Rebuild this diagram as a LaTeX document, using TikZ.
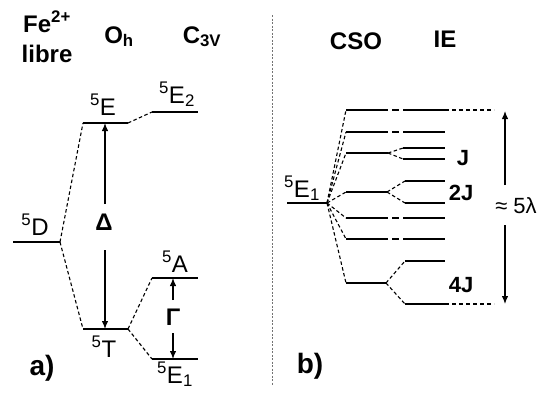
\documentclass[tikz,border=0pt]{standalone}
\usepackage{fontspec}
\setmainfont{Liberation Sans}
\usetikzlibrary{arrows.meta}
\begin{document}
\begin{tikzpicture}[x=1pt,y=-1pt,
  lvl/.style={line width=1.2pt},
  conn/.style={line width=1.1pt, dash pattern=on 3.5pt off 2.5pt},
  ddl/.style={line width=1.2pt, dash pattern=on 42pt off 4pt on 7pt off 4pt on 80pt},
  ext/.style={line width=1.1pt, dash pattern=on 4pt off 3pt},
  arr/.style={line width=1.2pt, -{Latex[length=8pt,width=6.5pt]}},
  lbl/.style={inner sep=0pt, anchor=base, font=\fontsize{24}{28}\selectfont},
  blbl/.style={inner sep=0pt, anchor=base, font=\fontsize{24}{28}\selectfont\bfseries},
  jlbl/.style={inner sep=0pt, anchor=base, font=\fontsize{22}{26}\selectfont\bfseries},
  plbl/.style={inner sep=0pt, anchor=base, font=\fontsize{28}{32}\selectfont\bfseries},
]
\useasboundingbox (0,0) rectangle (544,394);

% separator
\coordinate (s1) at (272,15);
\coordinate (s2) at (272,385);
\draw[black!55, line width=1pt, dash pattern=on 2pt off 1.5pt] (s1) -- (s2);

% ---------- panel a ----------
\node[blbl] (fe) at (47,32) {Fe\textsuperscript{2+}};
\node[blbl] (libre) at (47,62) {libre};
\node[blbl] (oh) at (119,43) {O\textsubscript{h}};
\node[blbl] (c3v) at (202,43) {C\textsubscript{3V}};

\coordinate (D1) at (13,242);  \coordinate (D2) at (60,242);
\coordinate (E1) at (83,123);  \coordinate (E2) at (128,123);
\coordinate (T1) at (83,329);  \coordinate (T2) at (128,329);
\coordinate (F1) at (152,112); \coordinate (F2) at (198,112);
\coordinate (A1) at (152,278); \coordinate (A2) at (198,278);
\coordinate (G1) at (152,359); \coordinate (G2) at (198,359);

\draw[lvl] (D1) -- (D2);
\draw[lvl] (E1) -- (E2);
\draw[lvl] (T1) -- (T2);
\draw[lvl] (F1) -- (F2);
\draw[lvl] (A1) -- (A2);
\draw[lvl] (G1) -- (G2);

\draw[conn] (D2) -- (E1);
\draw[conn] (D2) -- (T1);
\draw[conn] (E2) -- (F1);
\draw[conn] (T2) -- (A1);
\draw[conn] (T2) -- (G1);

\node[lbl] (lD) at (35,235) {\textsuperscript{5}D};
\node[lbl] (lE) at (103,115) {\textsuperscript{5}E};
\node[lbl] (lE2) at (177,103) {\textsuperscript{5}E\textsubscript{2}};
\node[lbl] (lA) at (175,272) {\textsuperscript{5}A};
\node[lbl] (lT) at (104,357) {\textsuperscript{5}T};
\node[lbl] (lE1) at (175,383) {\textsuperscript{5}E\textsubscript{1}};
\node[plbl] (la) at (42,375) {a)};

% Delta arrow
\node[blbl] (delta) at (104,230) {\char"0394};
\coordinate (dTs) at (105,204); \coordinate (dT) at (105,123);
\coordinate (dBs) at (105,250); \coordinate (dB) at (105,329);
\draw[arr] (dTs) -- (dT);
\draw[arr] (dBs) -- (dB);

% Gamma arrow
\node[blbl] (gamma) at (173,325) {\char"0393};
\coordinate (gTs) at (173,300); \coordinate (gT) at (173,278);
\coordinate (gBs) at (173,333); \coordinate (gB) at (173,359);
\draw[arr] (gTs) -- (gT);
\draw[arr] (gBs) -- (gB);

% ---------- panel b ----------
\node[blbl] (csolbl) at (356,49) {CSO};
\node[blbl] (ielbl) at (445,47) {IE};
\node[lbl] (lE1b) at (302,197) {\textsuperscript{5}E\textsubscript{1}};
\node[plbl] (lb) at (310,373) {b)};

\coordinate (B0) at (287,203); \coordinate (C) at (327,203);
\draw[lvl] (B0) -- (C);

% CSO levels left ends
\coordinate (L1) at (346,110);
\coordinate (L2) at (346,132);
\coordinate (L3) at (346,153);
\coordinate (L4) at (346,192);
\coordinate (L5) at (346,218);
\coordinate (L6) at (346,239);
\coordinate (L7) at (346,283);
\foreach \n in {1,...,7} \draw[conn] (C) -- (L\n);

% dash-dot levels
\coordinate (R1) at (445,110);
\coordinate (R2) at (445,132);
\coordinate (R5) at (445,218);
\coordinate (R6) at (445,239);
\draw[ddl] (L1) -- (R1);
\draw[ddl] (L2) -- (R2);
\draw[ddl] (L5) -- (R5);
\draw[ddl] (L6) -- (R6);

% split levels
\coordinate (M3) at (388,153);
\coordinate (M4) at (387,192);
\coordinate (M7) at (386,283);
\draw[lvl] (L3) -- (M3);
\draw[lvl] (L4) -- (M4);
\draw[lvl] (L7) -- (M7);

\coordinate (S3a) at (403,148); \coordinate (S3aR) at (445,148);
\coordinate (S3b) at (403,159); \coordinate (S3bR) at (445,159);
\coordinate (S4a) at (405,181); \coordinate (S4aR) at (445,181);
\coordinate (S4b) at (405,203); \coordinate (S4bR) at (445,203);
\coordinate (S7a) at (405,261); \coordinate (S7aR) at (445,261);
\coordinate (S7b) at (405,304); \coordinate (S7bR) at (445,304);

\draw[conn] (M3) -- (S3a);  \draw[conn] (M3) -- (S3b);
\draw[conn] (M4) -- (S4a);  \draw[conn] (M4) -- (S4b);
\draw[conn] (M7) -- (S7a);  \draw[conn] (M7) -- (S7b);
\draw[lvl] (S3a) -- (S3aR); \draw[lvl] (S3b) -- (S3bR);
\draw[lvl] (S4a) -- (S4aR); \draw[lvl] (S4b) -- (S4bR);
\draw[lvl] (S7a) -- (S7aR); \draw[lvl] (S7b) -- (S7bR);

% extensions
\coordinate (X1) at (494,110);
\coordinate (X7) at (494,304);
\draw[ext] (R1) -- (X1);
\draw[ext] (S7bR) -- (X7);

\node[jlbl] (j1) at (463,165) {J};
\node[jlbl] (j2) at (461,200) {2J};
\node[jlbl] (j4) at (461,292) {4J};

% 5 lambda arrow
\node[lbl, font=\fontsize{22}{26}\selectfont] (lam) at (516,213) {≈ 5λ};
\coordinate (lamA) at (505,185); \coordinate (lamT) at (505,111);
\coordinate (lamB) at (505,225); \coordinate (lamD) at (505,304);
\draw[arr] (lamA) -- (lamT);
\draw[arr] (lamB) -- (lamD);
\end{tikzpicture}
\end{document}
